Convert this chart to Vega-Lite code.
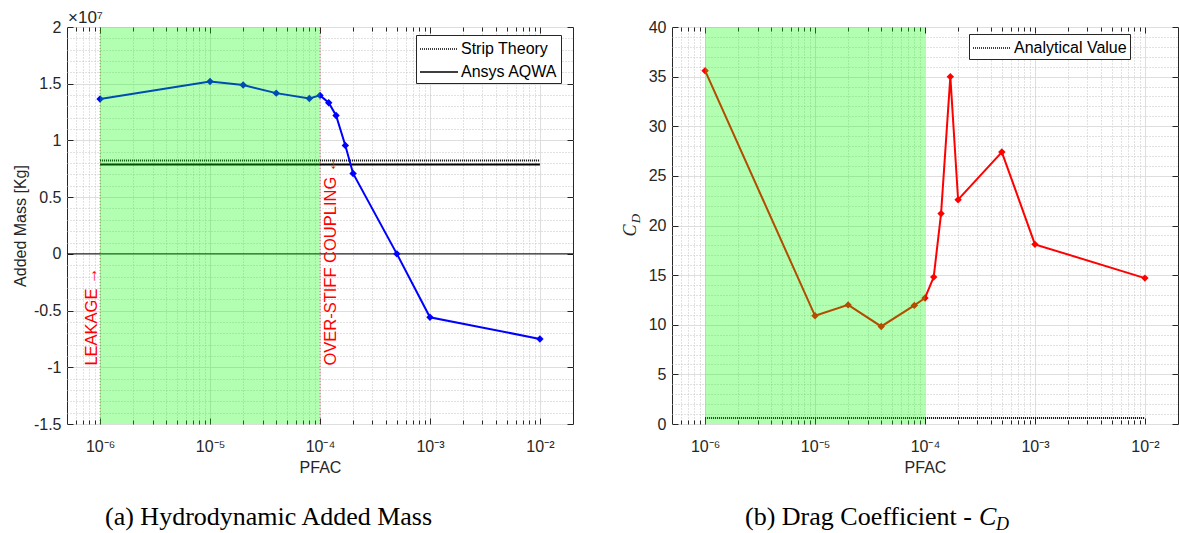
{
"$schema": "https://vega.github.io/schema/vega-lite/v6.json",
"background": "white",
"padding": {"left": 11, "top": 8, "right": 0, "bottom": 0},
"bounds": "flush",
"spacing": 99,
"resolve": {"scale": {"strokeDash": "independent"}, "legend": {"strokeDash": "independent"}},
"config": {
  "font": "Liberation Sans",
  "view": {"stroke": "#262626", "strokeWidth": 1},
  "axis": {"labelFont": "Liberation Sans", "labelFontSize": 16, "labelColor": "#262626", "titleFont": "Liberation Sans", "titleFontSize": 16, "titleFontWeight": "normal", "titleColor": "#262626", "domain": false, "tickColor": "#262626", "tickWidth": 1, "labelFlush": false, "labelOverlap": false, "gridColor": "#dedede", "gridOpacity": 1}
},
"datasets": {
  "added_mass": [
    {"pfac": 1e-6, "am": 13650000},
    {"pfac": 1e-5, "am": 15200000},
    {"pfac": 2e-5, "am": 14880000},
    {"pfac": 4e-5, "am": 14170000},
    {"pfac": 8e-5, "am": 13700000},
    {"pfac": 1e-4, "am": 13970000},
    {"pfac": 1.2e-4, "am": 13320000},
    {"pfac": 1.4e-4, "am": 12200000},
    {"pfac": 1.7e-4, "am": 9560000},
    {"pfac": 2e-4, "am": 7090000},
    {"pfac": 5e-4, "am": 0},
    {"pfac": 1e-3, "am": -5590000},
    {"pfac": 1e-2, "am": -7500000}
  ],
  "drag": [
    {"pfac": 1e-6, "cd": 35.6},
    {"pfac": 1e-5, "cd": 10.9},
    {"pfac": 2e-5, "cd": 12.0},
    {"pfac": 4e-5, "cd": 9.83},
    {"pfac": 8e-5, "cd": 11.95},
    {"pfac": 1e-4, "cd": 12.7},
    {"pfac": 1.2e-4, "cd": 14.8},
    {"pfac": 1.4e-4, "cd": 21.2},
    {"pfac": 1.7e-4, "cd": 35.0},
    {"pfac": 2e-4, "cd": 22.6},
    {"pfac": 5e-4, "cd": 27.4},
    {"pfac": 1e-3, "cd": 18.1},
    {"pfac": 1e-2, "cd": 14.7}
  ]
},
"hconcat": [
{
  "width": 506, "height": 397,
  "title": {"text": "(a) Hydrodynamic Added Mass", "orient": "bottom", "anchor": "start", "frame": "group", "dx": 38, "offset": 29, "font": "Liberation Serif", "fontSize": 26, "fontWeight": "normal", "color": "black"},
  "resolve": {"axis": {"x": "independent", "y": "independent"}},
  "layer": [
    {
      "data": {"values": [
        {"pfac": 1e-6, "am": 8230000, "method": "Strip Theory"},
        {"pfac": 0.01, "am": 8230000, "method": "Strip Theory"},
        {"pfac": 1e-6, "am": 7880000, "method": "Ansys AQWA"},
        {"pfac": 0.01, "am": 7880000, "method": "Ansys AQWA"}
      ]},
      "mark": {"type": "line", "color": "black", "strokeWidth": 2},
      "encoding": {
        "x": {"field": "pfac", "type": "quantitative", "scale": {"type": "log", "domain": [5e-7, 0.02], "nice": false},
              "axis": {"orient": "bottom", "values": [6e-7,7e-7,8e-7,9e-7,2e-6,3e-6,4e-6,5e-6,6e-6,7e-6,8e-6,9e-6,2e-5,3e-5,4e-5,5e-5,6e-5,7e-5,8e-5,9e-5,2e-4,3e-4,4e-4,5e-4,6e-4,7e-4,8e-4,9e-4,2e-3,3e-3,4e-3,5e-3,6e-3,7e-3,8e-3,9e-3], "grid": true, "gridColor": "#c4c4c4", "gridDash": [1, 2], "ticks": true, "tickSize": -4, "labels": false, "title": null}},
        "y": {"field": "am", "type": "quantitative", "scale": {"domain": [-15000000, 20000000], "nice": false, "zero": false},
              "axis": {"orient": "left", "values": [-15000000,-14000000,-13000000,-12000000,-11000000,-10000000,-9000000,-8000000,-7000000,-6000000,-5000000,-4000000,-3000000,-2000000,-1000000,0,1000000,2000000,3000000,4000000,5000000,6000000,7000000,8000000,9000000,10000000,11000000,12000000,13000000,14000000,15000000,16000000,17000000,18000000,19000000,20000000], "grid": true, "gridColor": "#c4c4c4", "gridDash": [1, 2], "ticks": false, "labels": false, "title": null}},
        "strokeDash": {"field": "method", "type": "nominal", "scale": {"domain": ["Strip Theory", "Ansys AQWA"], "range": [[1, 1], [1, 0]]},
              "legend": {"title": null, "orient": "none", "legendX": 349, "legendY": 8, "fillColor": "white", "strokeColor": "#262626", "padding": 3, "rowPadding": 4, "labelFont": "Liberation Sans", "labelFontSize": 16, "labelColor": "black", "symbolType": "M-1,0H2.8", "symbolSize": 400, "symbolStrokeColor": "black", "symbolFillColor": "transparent", "symbolStrokeWidth": 1.5, "labelOffset": 20}}
      }
    },
    {
      "data": {"values": [{"pfac": 1e-6}, {"pfac": 1e-4}]},
      "mark": {"type": "rule", "color": "#cc0000", "strokeDash": [1, 2], "strokeWidth": 1, "opacity": 0.55},
      "encoding": {
        "x": {"field": "pfac", "type": "quantitative", "scale": {"type": "log", "domain": [5e-7, 0.02], "nice": false},
              "axis": {"orient": "top", "values": [6e-7,7e-7,8e-7,9e-7,2e-6,3e-6,4e-6,5e-6,6e-6,7e-6,8e-6,9e-6,2e-5,3e-5,4e-5,5e-5,6e-5,7e-5,8e-5,9e-5,2e-4,3e-4,4e-4,5e-4,6e-4,7e-4,8e-4,9e-4,2e-3,3e-3,4e-3,5e-3,6e-3,7e-3,8e-3,9e-3], "grid": false, "ticks": true, "tickSize": -4, "labels": false, "title": null}}
      }
    },
    {
      "data": {"values": [{"am": 0}]},
      "mark": {"type": "rule", "color": "black", "strokeWidth": 1},
      "encoding": {
        "y": {"field": "am", "type": "quantitative", "scale": {"domain": [-15000000, 20000000], "nice": false, "zero": false},
              "axis": {"orient": "right", "values": [-15000000,-10000000,-5000000,0,5000000,10000000,15000000,20000000], "grid": false, "ticks": true, "tickSize": -6, "labels": false, "title": null}}
      }
    },
    {
      "data": {"name": "added_mass"},
      "mark": {"type": "line", "color": "#0000ff", "strokeWidth": 2},
      "encoding": {
        "x": {"field": "pfac", "type": "quantitative", "scale": {"type": "log", "domain": [5e-7, 0.02], "nice": false},
              "axis": {"orient": "bottom", "values": [1e-6, 1e-5, 1e-4, 1e-3, 1e-2], "labelExpr": "datum.value < 3e-6 ? '10⁻⁶' : datum.value < 3e-5 ? '10⁻⁵' : datum.value < 3e-4 ? '10⁻⁴' : datum.value < 3e-3 ? '10⁻³' : '10⁻²'", "grid": true, "ticks": true, "tickSize": -6, "labelPadding": 20, "title": "PFAC", "titlePadding": 5}},
        "y": {"field": "am", "type": "quantitative", "scale": {"domain": [-15000000, 20000000], "nice": false, "zero": false},
              "axis": {"orient": "left", "values": [-15000000,-10000000,-5000000,0,5000000,10000000,15000000,20000000], "labelExpr": "datum.value / 10000000 + ''", "grid": true, "ticks": true, "tickSize": -6, "labelPadding": 12, "title": "Added Mass [Kg]", "titlePadding": 5}}
      }
    },
    {
      "data": {"name": "added_mass"},
      "mark": {"type": "point", "shape": "diamond", "filled": true, "size": 55, "color": "#0000ff", "opacity": 1},
      "encoding": {
        "x": {"field": "pfac", "type": "quantitative", "scale": {"type": "log", "domain": [5e-7, 0.02], "nice": false}, "axis": null},
        "y": {"field": "am", "type": "quantitative", "scale": {"domain": [-15000000, 20000000], "nice": false, "zero": false}, "axis": null}
      }
    },
    {
      "data": {"values": [{"x0": 1e-6, "x1": 1e-4}]},
      "mark": {"type": "rect", "color": "#00ff00", "opacity": 0.3},
      "encoding": {
        "x": {"field": "x0", "type": "quantitative", "scale": {"type": "log", "domain": [5e-7, 0.02], "nice": false},
              "axis": {"orient": "top", "values": [1e-6, 1e-5, 1e-4, 1e-3, 1e-2], "grid": false, "ticks": true, "tickSize": -6, "labels": false, "title": null}},
        "x2": {"field": "x1"}
      }
    },
    {
      "data": {"values": [{"pfac": 1e-6, "am": -9850000, "label": "LEAKAGE →"}]},
      "mark": {"type": "text", "angle": 270, "align": "left", "baseline": "alphabetic", "dy": -3, "color": "#ff0000", "fontSize": 16.5, "font": "Liberation Sans"},
      "encoding": {
        "x": {"field": "pfac", "type": "quantitative", "scale": {"type": "log", "domain": [5e-7, 0.02], "nice": false}, "axis": null},
        "y": {"field": "am", "type": "quantitative", "scale": {"domain": [-15000000, 20000000], "nice": false, "zero": false}, "axis": null},
        "text": {"field": "label"}
      }
    },
    {
      "data": {"values": [{"pfac": 1e-4, "am": -9850000, "label": "OVER-STIFF COUPLING ←"}]},
      "mark": {"type": "text", "angle": 270, "align": "left", "baseline": "alphabetic", "dy": 16, "color": "#ff0000", "fontSize": 16.5, "font": "Liberation Sans"},
      "encoding": {
        "x": {"field": "pfac", "type": "quantitative", "scale": {"type": "log", "domain": [5e-7, 0.02], "nice": false}, "axis": null},
        "y": {"field": "am", "type": "quantitative", "scale": {"domain": [-15000000, 20000000], "nice": false, "zero": false}, "axis": null},
        "text": {"field": "label"}
      }
    },
    {
      "data": {"values": [{"pfac": 5e-7, "am": 20000000, "label": "×10⁷"}]},
      "mark": {"type": "text", "align": "left", "baseline": "alphabetic", "dx": 1, "dy": -4, "color": "#262626", "fontSize": 17, "font": "Liberation Sans"},
      "encoding": {
        "x": {"field": "pfac", "type": "quantitative", "scale": {"type": "log", "domain": [5e-7, 0.02], "nice": false}, "axis": null},
        "y": {"field": "am", "type": "quantitative", "scale": {"domain": [-15000000, 20000000], "nice": false, "zero": false}, "axis": null},
        "text": {"field": "label"}
      }
    }
  ]
},
{
  "width": 506, "height": 397,
  "resolve": {"axis": {"x": "independent", "y": "independent"}},
  "layer": [
    {
      "data": {"values": [
        {"pfac": 1e-6, "cd": 0.6, "ref": "Analytical Value"},
        {"pfac": 0.01, "cd": 0.6, "ref": "Analytical Value"}
      ]},
      "mark": {"type": "line", "color": "black", "strokeWidth": 2},
      "encoding": {
        "x": {"field": "pfac", "type": "quantitative", "scale": {"type": "log", "domain": [5e-7, 0.02], "nice": false},
              "axis": {"orient": "bottom", "values": [6e-7,7e-7,8e-7,9e-7,2e-6,3e-6,4e-6,5e-6,6e-6,7e-6,8e-6,9e-6,2e-5,3e-5,4e-5,5e-5,6e-5,7e-5,8e-5,9e-5,2e-4,3e-4,4e-4,5e-4,6e-4,7e-4,8e-4,9e-4,2e-3,3e-3,4e-3,5e-3,6e-3,7e-3,8e-3,9e-3], "grid": true, "gridColor": "#c4c4c4", "gridDash": [1, 2], "ticks": true, "tickSize": -4, "labels": false, "title": null}},
        "y": {"field": "cd", "type": "quantitative", "scale": {"domain": [0, 40], "nice": false},
              "axis": {"orient": "left", "values": [0,1,2,3,4,5,6,7,8,9,10,11,12,13,14,15,16,17,18,19,20,21,22,23,24,25,26,27,28,29,30,31,32,33,34,35,36,37,38,39,40], "grid": true, "gridColor": "#c4c4c4", "gridDash": [1, 2], "ticks": false, "labels": false, "title": null}},
        "strokeDash": {"field": "ref", "type": "nominal", "scale": {"domain": ["Analytical Value"], "range": [[1, 1]]},
              "legend": {"title": null, "orient": "none", "legendX": 297, "legendY": 7, "fillColor": "white", "strokeColor": "#262626", "padding": 3, "rowPadding": 4, "labelFont": "Liberation Sans", "labelFontSize": 16, "labelColor": "black", "symbolType": "M-1,0H2.8", "symbolSize": 400, "symbolStrokeColor": "black", "symbolFillColor": "transparent", "symbolStrokeWidth": 1.5, "labelOffset": 20}}
      }
    },
    {
      "data": {"name": "drag"},
      "mark": {"type": "line", "color": "#ff0000", "strokeWidth": 2},
      "encoding": {
        "x": {"field": "pfac", "type": "quantitative", "scale": {"type": "log", "domain": [5e-7, 0.02], "nice": false},
              "axis": {"orient": "bottom", "values": [1e-6, 1e-5, 1e-4, 1e-3, 1e-2], "labelExpr": "datum.value < 3e-6 ? '10⁻⁶' : datum.value < 3e-5 ? '10⁻⁵' : datum.value < 3e-4 ? '10⁻⁴' : datum.value < 3e-3 ? '10⁻³' : '10⁻²'", "grid": true, "ticks": true, "tickSize": -6, "labelPadding": 20, "title": "PFAC", "titlePadding": 5}},
        "y": {"field": "cd", "type": "quantitative", "scale": {"domain": [0, 40], "nice": false},
              "axis": {"orient": "left", "values": [0, 5, 10, 15, 20, 25, 30, 35, 40], "grid": true, "ticks": true, "tickSize": -6, "labelPadding": 12, "title": null}}
      }
    },
    {
      "data": {"name": "drag"},
      "mark": {"type": "point", "shape": "diamond", "filled": true, "size": 55, "color": "#ff0000", "opacity": 1},
      "encoding": {
        "x": {"field": "pfac", "type": "quantitative", "scale": {"type": "log", "domain": [5e-7, 0.02], "nice": false}, "axis": null},
        "y": {"field": "cd", "type": "quantitative", "scale": {"domain": [0, 40], "nice": false}, "axis": null}
      }
    },
    {
      "data": {"values": [{"x0": 1e-6, "x1": 1e-4, "y0": 0, "y1": 40}]},
      "mark": {"type": "rect", "color": "#00ff00", "opacity": 0.3},
      "encoding": {
        "x": {"field": "x0", "type": "quantitative", "scale": {"type": "log", "domain": [5e-7, 0.02], "nice": false},
              "axis": {"orient": "top", "values": [1e-6, 1e-5, 1e-4, 1e-3, 1e-2], "grid": false, "ticks": true, "tickSize": -6, "labels": false, "title": null}},
        "x2": {"field": "x1"},
        "y": {"field": "y0", "type": "quantitative", "scale": {"domain": [0, 40], "nice": false},
              "axis": {"orient": "right", "values": [0, 5, 10, 15, 20, 25, 30, 35, 40], "grid": false, "ticks": true, "tickSize": -6, "labels": false, "title": null}},
        "y2": {"field": "y1"}
      }
    },
    {
      "data": {"values": [{"pfac": 5e-7, "cd": 20, "t": "C"}]},
      "mark": {"type": "text", "angle": 270, "align": "center", "baseline": "middle", "dx": -5, "dy": -41, "color": "#262626", "fontSize": 18, "font": "Liberation Serif", "fontStyle": "italic"},
      "encoding": {
        "x": {"field": "pfac", "type": "quantitative", "scale": {"type": "log", "domain": [5e-7, 0.02], "nice": false},
              "axis": {"orient": "top", "values": [6e-7,7e-7,8e-7,9e-7,2e-6,3e-6,4e-6,5e-6,6e-6,7e-6,8e-6,9e-6,2e-5,3e-5,4e-5,5e-5,6e-5,7e-5,8e-5,9e-5,2e-4,3e-4,4e-4,5e-4,6e-4,7e-4,8e-4,9e-4,2e-3,3e-3,4e-3,5e-3,6e-3,7e-3,8e-3,9e-3], "grid": false, "ticks": true, "tickSize": -4, "labels": false, "title": null}},
        "y": {"field": "cd", "type": "quantitative", "scale": {"domain": [0, 40], "nice": false}, "axis": null},
        "text": {"field": "t"}
      }
    },
    {
      "data": {"values": [{"pfac": 5e-7, "cd": 20, "t": "D"}]},
      "mark": {"type": "text", "angle": 270, "align": "center", "baseline": "middle", "dx": 7, "dy": -36, "color": "#262626", "fontSize": 13, "font": "Liberation Serif", "fontStyle": "italic"},
      "encoding": {
        "x": {"field": "pfac", "type": "quantitative", "scale": {"type": "log", "domain": [5e-7, 0.02], "nice": false}, "axis": null},
        "y": {"field": "cd", "type": "quantitative", "scale": {"domain": [0, 40], "nice": false}, "axis": null},
        "text": {"field": "t"}
      }
    },
    {
      "data": {"values": [{"pfac": 5e-7, "cd": 0, "t": "(b) Drag Coefficient -"}]},
      "mark": {"type": "text", "align": "left", "baseline": "alphabetic", "dx": 73, "dy": 101, "color": "black", "fontSize": 26, "font": "Liberation Serif"},
      "encoding": {
        "x": {"field": "pfac", "type": "quantitative", "scale": {"type": "log", "domain": [5e-7, 0.02], "nice": false}, "axis": null},
        "y": {"field": "cd", "type": "quantitative", "scale": {"domain": [0, 40], "nice": false}, "axis": null},
        "text": {"field": "t"}
      }
    },
    {
      "data": {"values": [{"pfac": 5e-7, "cd": 0, "t": "C"}]},
      "mark": {"type": "text", "align": "left", "baseline": "alphabetic", "dx": 307, "dy": 101, "color": "black", "fontSize": 26, "font": "Liberation Serif", "fontStyle": "italic"},
      "encoding": {
        "x": {"field": "pfac", "type": "quantitative", "scale": {"type": "log", "domain": [5e-7, 0.02], "nice": false}, "axis": null},
        "y": {"field": "cd", "type": "quantitative", "scale": {"domain": [0, 40], "nice": false}, "axis": null},
        "text": {"field": "t"}
      }
    },
    {
      "data": {"values": [{"pfac": 5e-7, "cd": 0, "t": "D"}]},
      "mark": {"type": "text", "align": "left", "baseline": "alphabetic", "dx": 324, "dy": 106, "color": "black", "fontSize": 18, "font": "Liberation Serif", "fontStyle": "italic"},
      "encoding": {
        "x": {"field": "pfac", "type": "quantitative", "scale": {"type": "log", "domain": [5e-7, 0.02], "nice": false}, "axis": null},
        "y": {"field": "cd", "type": "quantitative", "scale": {"domain": [0, 40], "nice": false}, "axis": null},
        "text": {"field": "t"}
      }
    }
  ]
}
]
}
